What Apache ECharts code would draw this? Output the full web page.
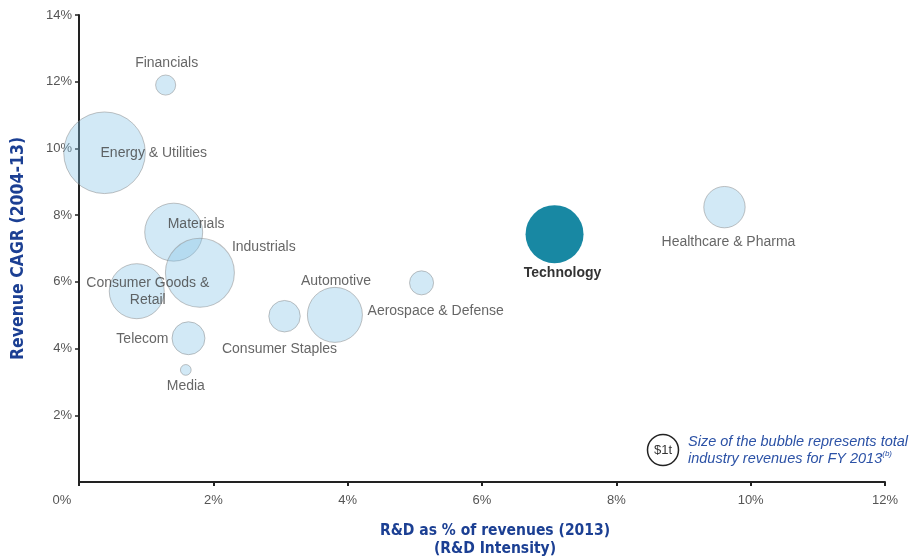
<!DOCTYPE html>
<html>
<head>
<meta charset="utf-8">
<script src="https://cdn.jsdelivr.net/npm/echarts@6/dist/echarts.min.js"></script>
<style>
  html, body { margin: 0; padding: 0; background: #fff; }
  #main { width: 915px; height: 559px; }
</style>
</head>
<body>
<div id="main"></div>
<script>
// data
var industries = ['Financials', 'Energy & Utilities', 'Materials', 'Industrials',
  'Consumer Goods & Retail', 'Telecom', 'Media', 'Consumer Staples',
  'Automotive', 'Aerospace & Defense', 'Technology', 'Healthcare & Pharma'];
var rdIntensity = [1.29, 0.38, 1.41, 1.80, 0.86, 1.63, 1.59, 3.06, 3.81, 5.10, 7.08, 9.61];   // x, %
var revenueCagr = [11.9, 9.87, 7.49, 6.27, 5.72, 4.31, 3.36, 4.97, 5.01, 5.97, 7.43, 8.24];   // y, %
var revenues = [0.42, 6.93, 3.5, 4.95, 3.15, 1.13, 0.12, 1.03, 3.15, 0.6, 3.5, 1.78];       // $ trillion
var xTicks = [0, 2, 4, 6, 8, 10, 12];
var yTicks = [0, 2, 4, 6, 8, 10, 12, 14];

var FONT = "'Liberation Sans', Arial, sans-serif";
var NARROW = "'Liberation Sans Narrow', 'DejaVu Sans Condensed', Arial, sans-serif";
var R_ONE = 15.5; // radius of a $1t bubble, px

// bubble area proportional to revenue
function bubbleSize(rev) {
  return 2 * R_ONE * Math.sqrt(rev);
}

// label offsets from the bubble centre
var labelLayout = {
  'Financials': { offset: [1, -22] },
  'Energy & Utilities': { align: 'left', offset: [-4, 0] },
  'Materials': { align: 'left', offset: [-6, -8] },
  'Industrials': { align: 'left', offset: [32, -26] },
  'Consumer Goods & Retail': { offset: [11, 0], formatter: 'Consumer Goods &\nRetail' },
  'Telecom': { align: 'right', offset: [-20, 1] },
  'Media': { offset: [0, 16] },
  'Consumer Staples': { offset: [-5, 33] },
  'Automotive': { align: 'left', offset: [-34, -34] },
  'Aerospace & Defense': { align: 'left', offset: [-54, 28] },
  'Technology': { offset: [8, 39], fontWeight: 'bold', color: '#333' },
  'Healthcare & Pharma': { offset: [4, 35] }
};

var points = industries.map(function (name, i) {
  var isTech = name === 'Technology';
  return {
    name: name,
    value: [rdIntensity[i], revenueCagr[i], revenues[i]],
    symbolSize: bubbleSize(revenues[i]),
    itemStyle: isTech ? {
      color: '#1888a3', opacity: 1, borderWidth: 0
    } : {
      color: 'rgba(130,193,231,0.45)', borderColor: 'rgba(130,130,130,0.6)', borderWidth: 1
    },
    label: Object.assign({
      show: true,
      position: 'inside',
      formatter: name,
      color: '#404040',
      fontSize: 14,
      fontFamily: FONT,
      lineHeight: 17
    }, labelLayout[name])
  };
});

var chart = echarts.init(document.getElementById('main'), null, { renderer: 'canvas' });

var option = {
  animation: false,
  backgroundColor: '#fff',
  grid: { left: 79, right: 30, top: 15, bottom: 77, outerBoundsMode: 'none' },
  xAxis: {
    type: 'value',
    min: xTicks[0],
    max: xTicks[xTicks.length - 1],
    interval: 2,
    splitLine: { show: false },
    axisLine: { lineStyle: { color: '#222', width: 2 } },
    axisTick: { show: true, length: 4, lineStyle: { color: '#222', width: 2 } },
    axisLabel: {
      color: '#555', fontSize: 13, fontFamily: FONT, margin: 12,
      formatter: function (v) { return v === 0 ? '{z|0%}' : v + '%'; },
      rich: { z: { color: '#555', fontSize: 13, fontFamily: FONT, padding: [0, 34, 0, 0] } }
    },
    name: 'R&D as % of revenues (2013)\n(R&D Intensity)',
    nameLocation: 'middle',
    nameGap: 40,
    nameTextStyle: {
      color: '#1b3f93', fontSize: 15.5, fontWeight: 'bold', fontFamily: NARROW,
      lineHeight: 18, padding: [0, 0, 0, 26]
    }
  },
  yAxis: {
    type: 'value',
    min: yTicks[0],
    max: yTicks[yTicks.length - 1],
    interval: 2,
    splitLine: { show: false },
    axisLine: { lineStyle: { color: '#222', width: 2 } },
    axisTick: { show: true, length: 4, lineStyle: { color: '#222', width: 1.5 } },
    axisLabel: {
      color: '#555', fontSize: 13, fontFamily: FONT, margin: 7,
      showMinLabel: false,
      formatter: '{value}%'
    },
    name: 'Revenue CAGR (2004-13)',
    nameLocation: 'middle',
    nameGap: 52,
    nameTextStyle: {
      color: '#1b3f93', fontSize: 17.5, fontWeight: 'bold', fontFamily: NARROW
    }
  },
  series: [{
    type: 'scatter',
    data: points,
    emphasis: { disabled: true },
    z: 3
  }],
  graphic: [
    {
      type: 'circle',
      shape: { cx: 663, cy: 450, r: bubbleSize(1) / 2 },
      style: { fill: '#fff', stroke: '#222', lineWidth: 1.5 }
    },
    {
      type: 'text',
      x: 663, y: 450,
      style: {
        text: '$1t', fill: '#333', font: '13px ' + FONT,
        align: 'center', verticalAlign: 'middle'
      }
    },
    {
      type: 'text',
      left: 688, top: 434,
      style: {
        text: '{t|Size of the bubble represents total}\n{t|industry revenues for FY 2013}{s|(b)}',
        rich: {
          t: { fill: '#2c52a6', font: 'italic 14.5px ' + FONT, lineHeight: 17 },
          s: { fill: '#2c52a6', font: 'italic 8px ' + FONT, verticalAlign: 'top', padding: [0, 0, 7, 0] }
        }
      }
    }
  ]
};

chart.setOption(option);
</script>
</body>
</html>
